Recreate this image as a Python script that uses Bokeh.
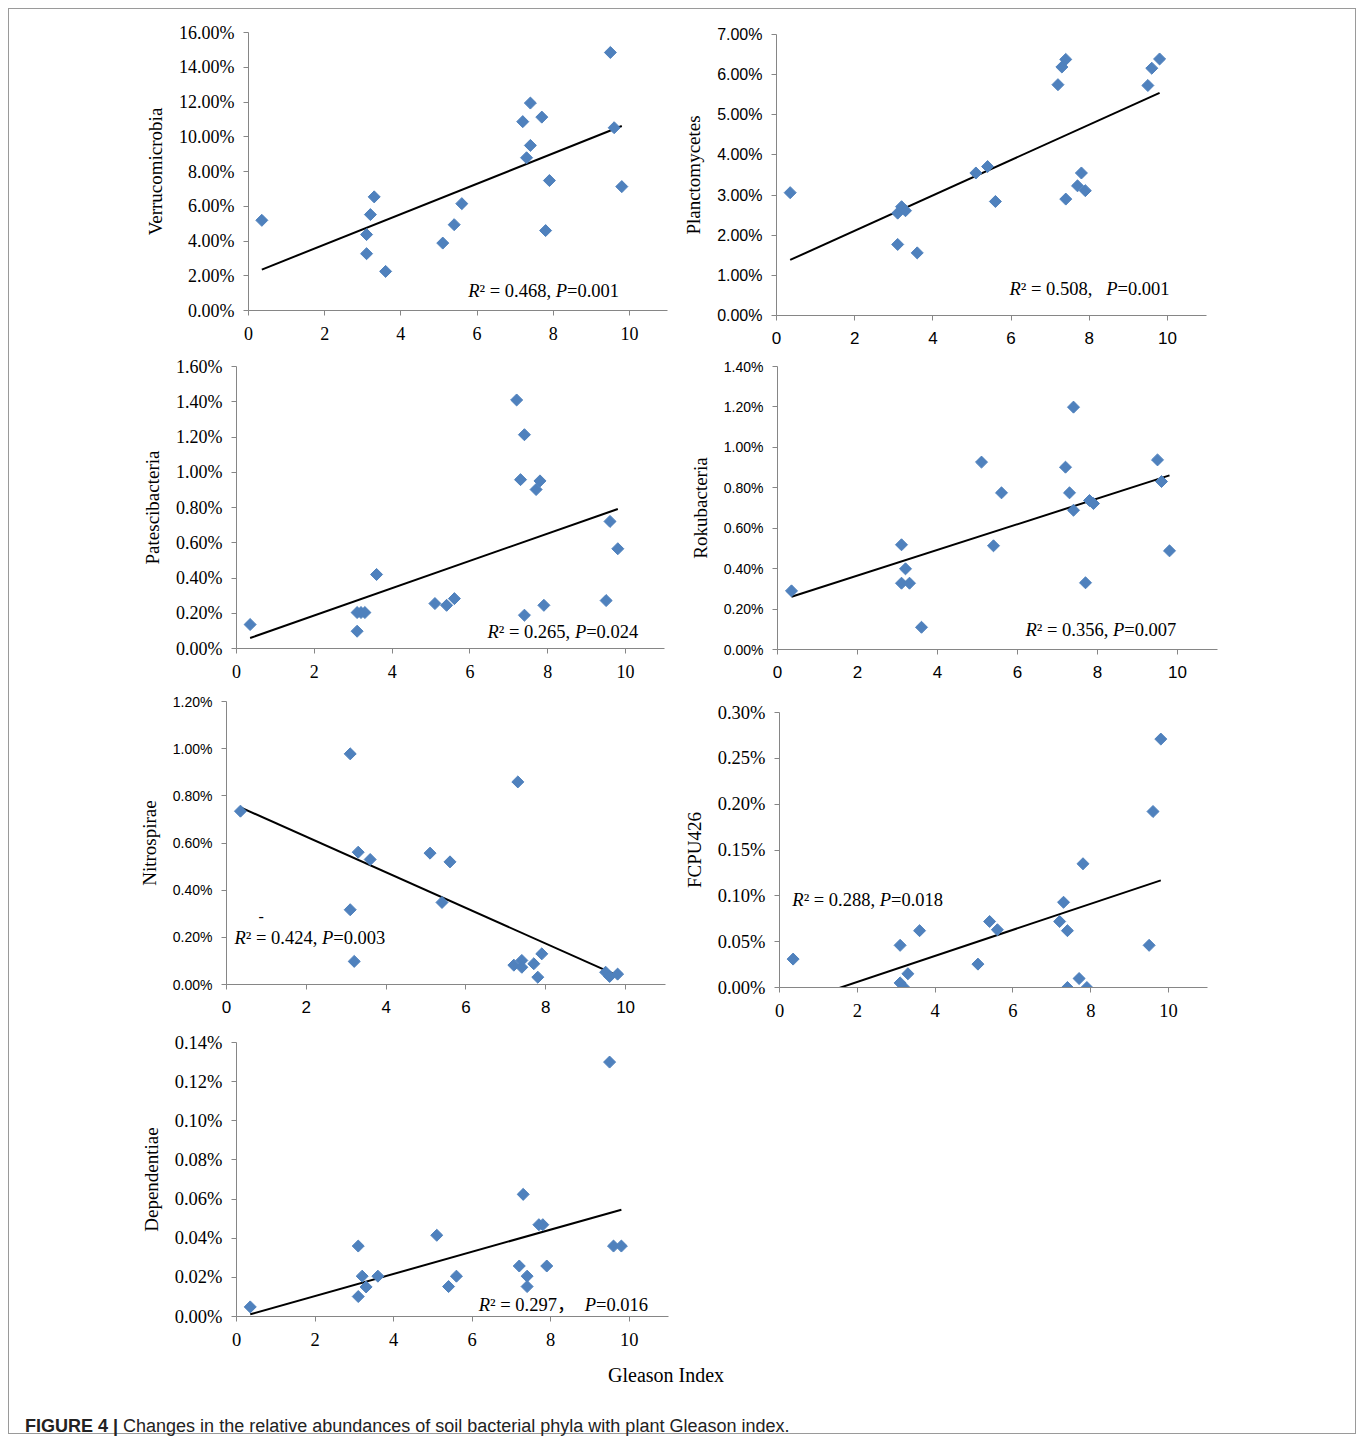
import numpy as np
from bokeh.plotting import figure
from bokeh.models import Range1d, FixedTicker, NumeralTickFormatter, Label, Div, Spacer
from bokeh.layouts import column, row
from bokeh.embed import file_html
from bokeh.resources import INLINE

# ---------------- data (relative abundance, %) ----------------
gleason = [0.35, 3.1, 3.1, 3.2, 3.3, 3.6, 5.1, 5.4, 5.6, 7.2, 7.3, 7.4, 7.4, 7.7, 7.8, 7.9, 9.5, 9.6, 9.8]
verrucomicrobia = [5.19, 4.37, 3.27, 5.52, 6.54, 2.25, 3.88, 4.94, 6.15, 10.87, 8.79, 9.50, 11.94, 11.13, 4.60, 7.48, 14.85, 10.52, 7.13]
planctomycetes = [3.06, 1.77, 2.55, 2.71, 2.61, 1.56, 3.55, 3.71, 2.84, 5.75, 6.19, 6.38, 2.90, 3.23, 3.55, 3.11, 5.73, 6.16, 6.39]
patescibacteria = [0.136, 0.204, 0.098, 0.204, 0.204, 0.420, 0.255, 0.245, 0.283, 1.410, 0.958, 1.213, 0.189, 0.902, 0.951, 0.245, 0.272, 0.721, 0.566]
rokubacteria = [0.290, 0.518, 0.328, 0.399, 0.328, 0.110, 0.927, 0.513, 0.775, 0.902, 0.775, 1.199, 0.689, 0.330, 0.737, 0.722, 0.938, 0.831, 0.488]
nitrospirae = [0.735, 0.978, 0.317, 0.098, 0.561, 0.530, 0.557, 0.348, 0.520, 0.082, 0.859, 0.102, 0.073, 0.088, 0.031, 0.130, 0.052, 0.034, 0.044]
fcpu426 = [0.031, 0.046, 0.005, 0.000, 0.015, 0.062, 0.0255, 0.072, 0.063, 0.072, 0.093, 0.062, 0.000, 0.0098, 0.135, 0.000, 0.046, 0.192, 0.271]
dependentiae = [0.0049, 0.0360, 0.0102, 0.0206, 0.0151, 0.0206, 0.0415, 0.0153, 0.0206, 0.0258, 0.0624, 0.0206, 0.0153, 0.0469, 0.0469, 0.0258, 0.1300, 0.0360, 0.0360]

x_ticks = [0, 2, 4, 6, 8, 10]
r2_labels = ["0.468", "0.508", "0.265", "0.356", "0.424", "0.288", "0.297"]
p_labels = ["0.001", "0.001", "0.024", "0.007", "0.003", "0.018", "0.016"]
y_max = [16, 7, 1.6, 1.4, 1.2, 0.30, 0.14]
y_step = [2, 1, 0.2, 0.2, 0.2, 0.05, 0.02]
names = ["Verrucomicrobia", "Planctomycetes", "Patescibacteria", "Rokubacteria", "Nitrospirae", "FCPU426", "Dependentiae"]
series = [verrucomicrobia, planctomycetes, patescibacteria, rokubacteria, nitrospirae, fcpu426, dependentiae]

SERIF = "Liberation Serif"
SANS = "Liberation Sans"
AXIS_COLOR = "#868686"
DOT = "#4F81BD"

EM = {'0': .5, '1': .5, '2': .5, '3': .5, '4': .5, '5': .5, '6': .5, '7': .5, '8': .5, '9': .5,
      '.': .25, ',': .25, ' ': .25, '=': .564, '²': .3, '，': 1.0}
EM_IT = {'R': .611, 'P': .611}


def text_w(t, italic, size):
    tot = 0
    for ch in t:
        tot += (EM_IT.get(ch, .6) if italic else EM.get(ch, .5))
    return tot * size


def add_stat(p, x, y, r2, pv, sep, size=18.5):
    pieces = [("R", True), ("² = " + r2 + sep, False), ("P", True), ("=" + pv, False)]
    off = 0
    for t, it in pieces:
        p.add_layout(Label(x=x, y=y, x_offset=off, text=t,
                           text_font="'Liberation Serif', 'Noto Sans CJK SC'",
                           text_font_style="italic" if it else "normal",
                           text_font_size=f"{size}px", text_baseline="middle",
                           text_color="black"))
        off += text_w(t, it, size)


def panel(i, w, h, mb, yfont, yfs, xfont, xfs):
    ys = np.array(series[i]) / 100.0
    xs = np.array(gleason)
    top = round(y_max[i] / 100.0, 10)
    p = figure(width=w, height=h, output_backend="svg", toolbar_location=None,
               x_range=Range1d(0, 11), y_range=Range1d(0, top),
               min_border_left=mb[0], min_border_right=mb[1],
               min_border_top=mb[2], min_border_bottom=mb[3])
    p.outline_line_color = None
    p.grid.visible = False
    p.background_fill_color = "white"
    p.border_fill_color = "white"
    nt = int(round(y_max[i] / y_step[i]))
    p.yaxis.ticker = FixedTicker(ticks=[round(k * y_step[i] / 100.0, 10) for k in range(nt + 1)])
    p.yaxis.formatter = NumeralTickFormatter(format="0.00%")
    p.xaxis.ticker = FixedTicker(ticks=x_ticks)
    for ax in (p.xaxis, p.yaxis):
        ax.axis_line_color = AXIS_COLOR
        ax.major_tick_line_color = AXIS_COLOR
        ax.minor_tick_line_color = None
        ax.major_tick_in = 0
        ax.major_tick_out = 5
        ax.major_label_text_color = "black"
    p.yaxis.major_label_text_font = yfont
    p.yaxis.major_label_text_font_size = f"{yfs}px"
    p.yaxis.major_label_standoff = 9
    p.xaxis.major_label_text_font = xfont
    p.xaxis.major_label_text_font_size = f"{xfs}px"
    p.xaxis.major_label_standoff = 11
    p.yaxis.axis_label = names[i]
    p.yaxis.axis_label_text_font = SERIF
    p.yaxis.axis_label_text_font_style = "normal"
    p.yaxis.axis_label_text_font_size = "19px"
    p.yaxis.axis_label_text_color = "black"
    p.yaxis.axis_label_standoff = 10

    k, b = np.polyfit(xs, ys, 1)
    lx = np.array([xs.min(), xs.max()])
    p.line(lx, k * lx + b, line_color="black", line_width=2)
    p.scatter(xs, ys, marker="square", angle=np.pi / 4, size=8.5,
              fill_color=DOT, line_color=DOT)
    return p


W1, W2 = 671, 675
p1 = panel(0, W1, 346, (239, 13, 23, 45), SERIF, 18, SERIF, 18)
add_stat(p1, 5.77, 0.0115, r2_labels[0], p_labels[0], ", ")
p2 = panel(1, W2, 346, (95, 149, 25, 40), SANS, 16, SANS, 17)
add_stat(p2, 5.96, 0.0065, r2_labels[1], p_labels[1], ",   ")

p3 = panel(2, W1, 335, (227, 16, 11, 42), SERIF, 18, SERIF, 18)
add_stat(p3, 6.45, 0.00091, r2_labels[2], p_labels[2], ", ")
p4 = panel(3, W2, 335, (97, 138, 11, 41), SANS, 14, SANS, 17)
add_stat(p4, 6.2, 0.00094, r2_labels[3], p_labels[3], ", ")

p5 = panel(4, W1, 338, (217, 15, 11, 44), SANS, 14, SANS, 17)
add_stat(p5, 0.2, 0.00199, r2_labels[4], p_labels[4], ", ")
p5.add_layout(Label(x=0.8, y=0.00289, text="-", text_font=SERIF, text_font_size="16px",
                    text_baseline="middle", text_color="black"))
p6 = panel(5, W2, 338, (96, 148, 22, 41), SERIF, 18.5, SERIF, 18.5)
add_stat(p6, 0.33, 0.00095, r2_labels[5], p_labels[5], ", ")

p7 = panel(6, W1, 327, (227, 12, 14, 39), SERIF, 18.5, SERIF, 18.5)
add_stat(p7, 6.17, 0.000061, r2_labels[6], p_labels[6], "，  ")

xlabel = Div(text='<div style="padding-top:6px;font-family:\'Liberation Serif\';font-size:20px;color:black;">Gleason Index</div>',
             width=300, height=40, margin=0)
caption = Div(text='<div style="padding-top:19px;font-family:\'Liberation Sans\';font-size:18px;color:#222;white-space:nowrap;">'
                   '<b>FIGURE 4 |</b> Changes in the relative abundances of soil bacterial phyla with plant Gleason index.</div>',
              width=1300, height=38, margin=0)


def cell(p):
    return column(p, spacing=0)


layout = column(
    row(cell(p1), cell(p2), spacing=0),
    row(cell(p3), cell(p4), spacing=0),
    row(cell(p5), cell(p6), spacing=0),
    row(cell(p7), spacing=0),
    row(Spacer(width=599, height=40), xlabel, spacing=0),
    row(Spacer(width=16, height=38), caption, spacing=0),
    spacing=0,
    margin=(8, 0, 0, 8),
    styles={"border": "1px solid #9a9a9a"},
)

open("out.html", "w").write(file_html(layout, INLINE))
